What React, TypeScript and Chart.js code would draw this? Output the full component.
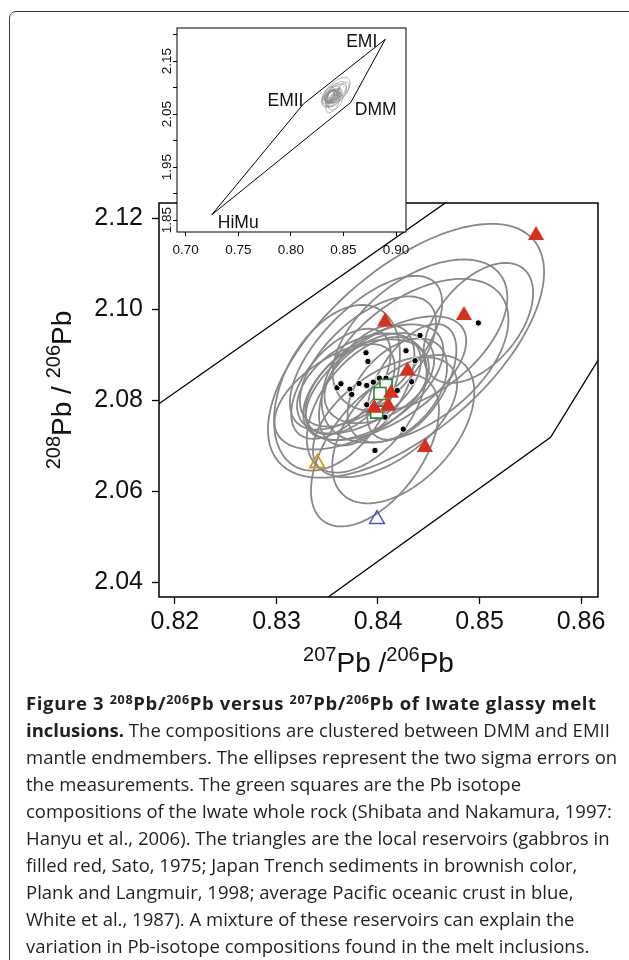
import React, { useEffect, useRef } from 'react';
import { Chart, registerables } from 'chart.js';
Chart.register(...registerables);

// ---------- data ----------
const X_TICKS = [0.82, 0.83, 0.84, 0.85, 0.86];
const Y_TICKS = [2.04, 2.06, 2.08, 2.1, 2.12];
const INSET_X_TICKS = [0.7, 0.75, 0.8, 0.85, 0.9];
const INSET_Y_TICKS = [1.85, 1.9, 1.95, 2.0, 2.05, 2.1, 2.15, 2.2];
const INSET_Y_LABELS = ['1.85', '', '1.95', '', '2.05', '', '2.15', ''];

// mantle endmembers (polygon order HiMu -> EMII -> EMI -> DMM)
const ENDMEMBERS = ['HiMu', 'EMII', 'EMI', 'DMM'];
const ENDMEMBER_X = [0.7248, 0.812, 0.8898, 0.857];
const ENDMEMBER_Y = [1.86, 2.0692, 2.191, 2.0719];

// melt inclusions (207Pb/206Pb, 208Pb/206Pb) with 2-sigma errors and error correlation
const INCLUSION_X = [0.84414, 0.83882, 0.83901, 0.84276, 0.84365, 0.84988, 0.83596, 0.83635, 0.83724, 0.83813, 0.83889,
  0.83954, 0.84013, 0.84079, 0.84332, 0.8419, 0.83741, 0.83889, 0.84069, 0.84249, 0.8397];
const INCLUSION_Y = [2.09429, 2.09048, 2.08857, 2.09092, 2.08873, 2.09703, 2.08279, 2.08367, 2.08248, 2.08374, 2.0833,
  2.08402, 2.0849, 2.0849, 2.08411, 2.0822, 2.08132, 2.07905, 2.07633, 2.07369, 2.06901];
const ERR_X = [0.0086, 0.0075, 0.0067, 0.0136, 0.0092, 0.0054, 0.0062, 0.0049, 0.0044, 0.0061, 0.0047,
  0.0069, 0.0054, 0.0079, 0.0044, 0.0049, 0.0076, 0.0059, 0.0071, 0.007, 0.0063];
const ERR_Y = [0.0167, 0.0169, 0.0143, 0.0279, 0.018, 0.0132, 0.0182, 0.0121, 0.0099, 0.011, 0.0132,
  0.0127, 0.0099, 0.0136, 0.0127, 0.0114, 0.0121, 0.0149, 0.0132, 0.0163, 0.0167];
const ERR_RHO = [0.5, 0.65, 0.6, 0.62, 0.5, 0.5, 0.4, 0.55, 0.5, 0.45, 0.5,
  0.55, 0.4, 0.6, 0.55, 0.45, 0.5, 0.5, 0.55, 0.5, 0.53];

// Iwate whole rock (green squares)
const WHOLE_ROCK_X = [0.84079, 0.8402, 0.83987];
const WHOLE_ROCK_Y = [2.0833, 2.08154, 2.07743];

// local reservoirs
const GABBRO_X = [0.85557, 0.84847, 0.84069, 0.84291, 0.84128, 0.83964, 0.84101, 0.84463];
const GABBRO_Y = [2.1163, 2.0987, 2.0973, 2.0865, 2.0816, 2.0783, 2.0788, 2.0697];
const SEDIMENT_X = [0.83402];
const SEDIMENT_Y = [2.0662];
const CRUST_X = [0.8399];
const CRUST_Y = [2.0539];

// ---------- helpers ----------
const FONT = '"Liberation Sans", Arial, Helvetica, sans-serif';
const pts = (xs: number[], ys: number[]) => xs.map((x, i) => ({ x, y: ys[i] }));
const polygon = () => [0, 1, 2, 3, 0].map((i) => ({ x: ENDMEMBER_X[i], y: ENDMEMBER_Y[i] }));

type Seg = { t: string; sup: boolean };
function drawRich(ctx: CanvasRenderingContext2D, segs: Seg[], cx: number, cy: number, size: number, rotate: boolean) {
  ctx.save();
  ctx.translate(cx, cy);
  if (rotate) ctx.rotate(-Math.PI / 2);
  const fN = `${size}px ${FONT}`;
  const fS = `${Math.round(size * 0.7)}px ${FONT}`;
  let total = 0;
  const widths = segs.map((s) => {
    ctx.font = s.sup ? fS : fN;
    const w = ctx.measureText(s.t).width;
    total += w;
    return w;
  });
  let x = -total / 2;
  ctx.textAlign = 'left';
  ctx.textBaseline = 'alphabetic';
  ctx.fillStyle = '#111';
  segs.forEach((s, i) => {
    ctx.font = s.sup ? fS : fN;
    ctx.fillText(s.t, x, s.sup ? -size * 0.4 : 0);
    x += widths[i];
  });
  ctx.restore();
}

const ellipsePlugin = (lineWidth: number, color: string) => ({
  id: 'ellipses',
  beforeDatasetsDraw(chart: any) {
    const { ctx, chartArea, scales } = chart;
    const sx = scales.x, sy = scales.y;
    ctx.save();
    ctx.beginPath();
    ctx.rect(chartArea.left, chartArea.top, chartArea.right - chartArea.left, chartArea.bottom - chartArea.top);
    ctx.clip();
    ctx.strokeStyle = color;
    ctx.lineWidth = lineWidth;
    for (let i = 0; i < INCLUSION_X.length; i++) {
      const k = Math.sqrt(1 - ERR_RHO[i] * ERR_RHO[i]);
      ctx.beginPath();
      for (let j = 0; j <= 144; j++) {
        const t = (j / 144) * Math.PI * 2;
        const vx = INCLUSION_X[i] + ERR_X[i] * Math.cos(t);
        const vy = INCLUSION_Y[i] + ERR_Y[i] * (ERR_RHO[i] * Math.cos(t) + k * Math.sin(t));
        const px = sx.getPixelForValue(vx);
        const py = sy.getPixelForValue(vy);
        if (j === 0) ctx.moveTo(px, py);
        else ctx.lineTo(px, py);
      }
      ctx.closePath();
      ctx.stroke();
    }
    ctx.restore();
  },
});

const framePlugin = (lineWidth: number, fillWhite: boolean) => ({
  id: 'frame',
  beforeDraw(chart: any) {
    if (!fillWhite) return;
    const { ctx, chartArea: a } = chart;
    ctx.save();
    ctx.fillStyle = '#fff';
    ctx.fillRect(a.left, a.top, a.right - a.left, a.bottom - a.top);
    ctx.restore();
  },
  afterDraw(chart: any) {
    const { ctx, chartArea: a } = chart;
    ctx.save();
    ctx.strokeStyle = '#000';
    ctx.lineWidth = lineWidth;
    ctx.strokeRect(a.left, a.top, a.right - a.left, a.bottom - a.top);
    ctx.restore();
  },
});

const mainTitles = {
  id: 'titles',
  afterDraw(chart: any) {
    const { ctx, chartArea: a } = chart;
    drawRich(ctx, [
      { t: '207', sup: true }, { t: 'Pb /', sup: false }, { t: '206', sup: true }, { t: 'Pb', sup: false },
    ], (a.left + a.right) / 2, 482, 28, false);
    drawRich(ctx, [
      { t: '208', sup: true }, { t: 'Pb / ', sup: false }, { t: '206', sup: true }, { t: 'Pb', sup: false },
    ], 63, 200, 28, true);
  },
};

const insetLabels = {
  id: 'insetLabels',
  afterDraw(chart: any) {
    const { ctx, chartArea: a, scales } = chart;
    const sx = scales.x, sy = scales.y;
    ctx.save();
    ctx.fillStyle = '#111';
    // rotated y tick labels
    ctx.font = `13.5px ${FONT}`;
    INSET_Y_TICKS.forEach((v, i) => {
      const lab = INSET_Y_LABELS[i];
      if (!lab) return;
      ctx.save();
      ctx.translate(a.left - 10, sy.getPixelForValue(v));
      ctx.rotate(-Math.PI / 2);
      ctx.textAlign = 'center';
      ctx.textBaseline = 'middle';
      ctx.fillText(lab, 0, 0);
      ctx.restore();
    });
    // endmember labels
    ctx.font = `17.5px ${FONT}`;
    ctx.textBaseline = 'alphabetic';
    const px = ENDMEMBER_X.map((v) => sx.getPixelForValue(v));
    const py = ENDMEMBER_Y.map((v) => sy.getPixelForValue(v));
    ctx.textAlign = 'left';
    ctx.fillText(ENDMEMBERS[0], px[0] + 6, py[0] + 13);
    ctx.textAlign = 'right';
    ctx.fillText(ENDMEMBERS[1], px[1], py[1] + 2);
    ctx.fillText(ENDMEMBERS[2], px[2] - 8, py[2] + 8);
    ctx.textAlign = 'left';
    ctx.fillText(ENDMEMBERS[3], px[3] + 4, py[3] + 13);
    ctx.restore();
  },
};

function fixedScale(size: number, isX: boolean, ticks: number[]) {
  return {
    afterBuildTicks: (s: any) => {
      s.ticks = ticks.map((v) => ({ value: v }));
    },
    afterFit: (s: any) => {
      if (isX) s.height = size;
      else s.width = size;
      s.paddingTop = 0;
      s.paddingBottom = 0;
      s.paddingLeft = 0;
      s.paddingRight = 0;
    },
  };
}

function MainChart() {
  const ref = useRef<HTMLCanvasElement>(null);
  useEffect(() => {
    const chart = new Chart(ref.current!, {
      type: 'scatter',
      data: {
        datasets: [
          {
            label: 'gabbros', data: pts(GABBRO_X, GABBRO_Y), pointStyle: 'triangle', pointRadius: 9.3,
            backgroundColor: '#d7301f', borderColor: '#d7301f', borderWidth: 0,
          },
          {
            label: 'whole rock', data: pts(WHOLE_ROCK_X, WHOLE_ROCK_Y), pointStyle: 'rect', pointRadius: 8.5,
            backgroundColor: '#ffffff', borderColor: '#1f8a3a', borderWidth: 1.6,
          },
          {
            label: 'sediments', data: pts(SEDIMENT_X, SEDIMENT_Y), pointStyle: 'triangle', pointRadius: 8.5,
            backgroundColor: 'rgba(0,0,0,0)', borderColor: '#d29a1a', borderWidth: 1.8,
          },
          {
            label: 'crust', data: pts(CRUST_X, CRUST_Y), pointStyle: 'triangle', pointRadius: 8.5,
            backgroundColor: 'rgba(0,0,0,0)', borderColor: '#4a55b8', borderWidth: 1.5,
          },
          {
            label: 'inclusions', data: pts(INCLUSION_X, INCLUSION_Y), pointStyle: 'circle', pointRadius: 3.2,
            backgroundColor: '#000', borderColor: '#fff', borderWidth: 1,
          },
          {
            label: 'mantle array', data: polygon(), showLine: true, pointRadius: 0,
            borderColor: '#000', borderWidth: 1.3, fill: false,
          },
        ],
      },
      options: {
        responsive: false,
        animation: false,
        events: [],
        layout: { padding: { left: 0, top: 13, right: 30, bottom: 0 } },
        plugins: { legend: { display: false }, tooltip: { enabled: false } },
        scales: {
          x: {
            type: 'linear', min: 0.81843, max: 0.86167,
            ...fixedScale(93, true, X_TICKS),
            grid: { display: true, drawOnChartArea: false, drawTicks: true, tickLength: 7, tickColor: '#000', tickWidth: 1.3 },
            border: { display: false },
            ticks: { font: { size: 25, family: FONT }, color: '#111', padding: 3, maxRotation: 0, callback: (v: any) => Number(v).toFixed(2) },
          },
          y: {
            type: 'linear', min: 2.0368, max: 2.1234,
            ...fixedScale(151, false, Y_TICKS),
            grid: { display: true, drawOnChartArea: false, drawTicks: true, tickLength: 7, tickColor: '#000', tickWidth: 1.3 },
            border: { display: false },
            ticks: { font: { size: 25, family: FONT }, color: '#111', padding: 9, callback: (v: any) => Number(v).toFixed(2) },
          },
        },
      },
      plugins: [ellipsePlugin(1.8, '#888888'), framePlugin(1.5, false), mainTitles],
    } as any);
    return () => chart.destroy();
  }, []);
  return <canvas ref={ref} width={620} height={500} style={{ position: 'absolute', left: 8, top: 190, width: 620, height: 500 }} />;
}

function InsetChart() {
  const ref = useRef<HTMLCanvasElement>(null);
  useEffect(() => {
    const chart = new Chart(ref.current!, {
      type: 'scatter',
      data: {
        datasets: [
          {
            label: 'mantle array', data: polygon(), showLine: true, pointRadius: 0,
            borderColor: '#000', borderWidth: 1, fill: false,
          },
        ],
      },
      options: {
        responsive: false,
        animation: false,
        events: [],
        layout: { padding: { left: 0, top: 8, right: 14, bottom: 0 } },
        plugins: { legend: { display: false }, tooltip: { enabled: false } },
        scales: {
          x: {
            type: 'linear', min: 0.6917, max: 0.9095,
            ...fixedScale(33, true, INSET_X_TICKS),
            grid: { display: true, drawOnChartArea: false, drawTicks: true, tickLength: 4, tickColor: '#000', tickWidth: 1 },
            border: { display: false },
            ticks: { font: { size: 13.5, family: FONT }, color: '#111', padding: 6, maxRotation: 0, callback: (v: any) => Number(v).toFixed(2) },
          },
          y: {
            type: 'linear', min: 1.8274, max: 2.2123,
            ...fixedScale(27, false, INSET_Y_TICKS),
            grid: { display: true, drawOnChartArea: false, drawTicks: true, tickLength: 4, tickColor: '#000', tickWidth: 1 },
            border: { display: false },
            ticks: { display: false },
          },
        },
      },
      plugins: [framePlugin(1, true), ellipsePlugin(0.7, '#8a8a8a'), insetLabels],
    } as any);
    return () => chart.destroy();
  }, []);
  return <canvas ref={ref} width={270} height={245} style={{ position: 'absolute', left: 150, top: 20, width: 270, height: 245 }} />;
}

const supStyle: React.CSSProperties = { fontSize: '0.68em', position: 'relative', top: '-0.45em', verticalAlign: 'baseline', lineHeight: 0 };

export default function App() {
  return (
    <div style={{ position: 'absolute', left: 0, top: 0, width: 629, height: 960, overflow: 'hidden', background: '#fff' }}>
      <div style={{ position: 'absolute', left: 9, top: 11, width: 660, height: 1000, border: '1.5px solid #3a3a3a', borderRadius: 7 }} />
      <MainChart />
      <InsetChart />
      <div style={{ position: 'absolute', left: 26, top: 689, fontFamily: '"Open Sans", sans-serif', fontSize: 18.5, lineHeight: '27px', color: '#231f20', whiteSpace: 'nowrap' }}>
        <div style={{ letterSpacing: '0.65px' }}><b>Figure 3 <span style={supStyle}>208</span>Pb/<span style={supStyle}>206</span>Pb versus <span style={supStyle}>207</span>Pb/<span style={supStyle}>206</span>Pb of Iwate glassy melt</b></div>
        <div><b>inclusions.</b> The compositions are clustered between DMM and EMII</div>
        <div>mantle endmembers. The ellipses represent the two sigma errors on</div>
        <div>the measurements. The green squares are the Pb isotope</div>
        <div>compositions of the Iwate whole rock (Shibata and Nakamura, 1997:</div>
        <div>Hanyu et al., 2006). The triangles are the local reservoirs (gabbros in</div>
        <div>filled red, Sato, 1975; Japan Trench sediments in brownish color,</div>
        <div>Plank and Langmuir, 1998; average Pacific oceanic crust in blue,</div>
        <div>White et al., 1987). A mixture of these reservoirs can explain the</div>
        <div>variation in Pb-isotope compositions found in the melt inclusions.</div>
      </div>
    </div>
  );
}
